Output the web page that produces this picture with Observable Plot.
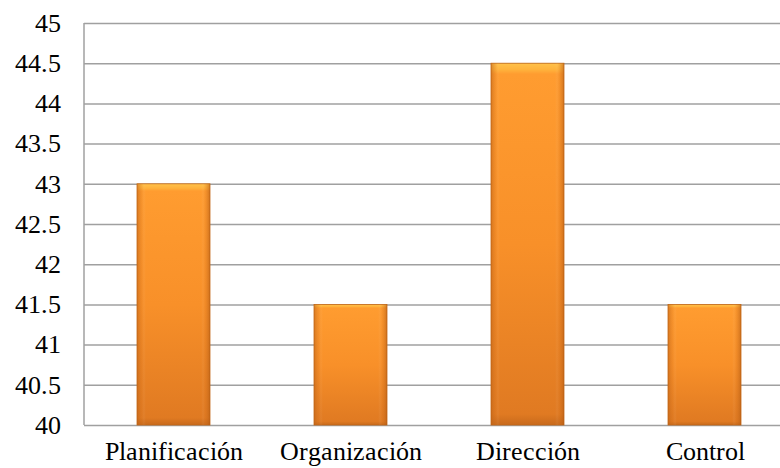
<!DOCTYPE html>
<html>
<head>
<meta charset="utf-8">
<script src="https://cdn.jsdelivr.net/npm/d3@7"></script>
<script src="https://cdn.jsdelivr.net/npm/@observablehq/plot@0.6"></script>
<style>
  @font-face { font-family: "RefSerif"; src: local("Liberation Serif"), local("LiberationSerif"), local("LiberationSerif-Regular"), local("Times New Roman"), local("DejaVu Serif"), local("DejaVuSerif"); }
  html, body { margin: 0; padding: 0; background: #fff; overflow: hidden; width: 780px; height: 468px; }
  #chart svg { display: block; max-width: none !important; }
  #chart svg text { font-family: "RefSerif", "Liberation Serif", serif !important; }
</style>
</head>
<body>
<div id="chart"></div>
<script>
const categories = ["Planificación", "Organización", "Dirección", "Control"];
const values = [43, 41.5, 44.5, 41.5];
const yTicks = [40, 40.5, 41, 41.5, 42, 42.5, 43, 43.5, 44, 44.5, 45];

const data = categories.map((c, i) => ({category: c, value: values[i]}));
const yMin = yTicks[0], yMax = yTicks[yTicks.length - 1];

const NS = "http://www.w3.org/2000/svg";
function defs() {
  const g = document.createElementNS(NS, "defs");
  g.innerHTML = `
    <linearGradient id="gv" x1="0" y1="0" x2="0" y2="1">
      <stop offset="0" stop-color="#FFC24A"/>
      <stop offset="0.018" stop-color="#FFB23C"/>
      <stop offset="0.03" stop-color="#FF9C30"/>
      <stop offset="0.5" stop-color="#F89029"/>
      <stop offset="0.97" stop-color="#E07A22"/>
      <stop offset="1" stop-color="#C86A1C"/>
    </linearGradient>
    <linearGradient id="gh" x1="0" y1="0" x2="1" y2="0">
      <stop offset="0" stop-color="#B85E14" stop-opacity="0.55"/>
      <stop offset="0.07" stop-color="#D07020" stop-opacity="0.15"/>
      <stop offset="0.12" stop-color="#ffffff" stop-opacity="0"/>
      <stop offset="0.88" stop-color="#ffffff" stop-opacity="0"/>
      <stop offset="0.93" stop-color="#D07020" stop-opacity="0.15"/>
      <stop offset="1" stop-color="#B05810" stop-opacity="0.6"/>
    </linearGradient>
    <filter id="sh" x="-10%" y="-5%" width="125%" height="110%">
      <feDropShadow dx="1.5" dy="1" stdDeviation="1.2" flood-color="#000" flood-opacity="0.3"/>
    </filter>`;
  return g;
}

const chart = Plot.plot({
  width: 793,
  height: 468,
  marginLeft: 84,
  marginRight: 0,
  marginTop: 23,
  marginBottom: 43,
  style: {fontSize: "26px", color: "#000", background: "#fff"},
  x: {domain: categories, paddingInner: 0.59, paddingOuter: 0.295, label: null},
  y: {domain: [yMin, yMax], label: null},
  marks: [
    defs,
    Plot.ruleY(yTicks, {stroke: "#A0A0A0", strokeWidth: 1.5, strokeOpacity: 1}),
    Plot.barY(data, {x: "category", y1: () => yMin, y2: "value", fill: "url(#gv)", stroke: "#C46818", strokeWidth: 0.8, style: {filter: "url(#sh)"}}),
    Plot.barY(data, {x: "category", y1: () => yMin, y2: "value", fill: "url(#gh)"}),
    Plot.axisY(yTicks, {tickSize: 0, tickPadding: 24, tickFormat: d => String(d), fontSize: 26, fill: "#000"}),
    Plot.axisX({tickSize: 0, tickPadding: 16, fontSize: 26, fill: "#000"})
  ]
});

// left frame line
const frame = document.createElementNS(NS, "line");
frame.setAttribute("x1", 84); frame.setAttribute("x2", 84);
frame.setAttribute("y1", 23); frame.setAttribute("y2", 425);
frame.setAttribute("stroke", "#A0A0A0"); frame.setAttribute("stroke-width", 1.5);
chart.appendChild(frame);
chart.style.maxWidth = "none";
document.getElementById("chart").appendChild(chart);
</script>
</body>
</html>
